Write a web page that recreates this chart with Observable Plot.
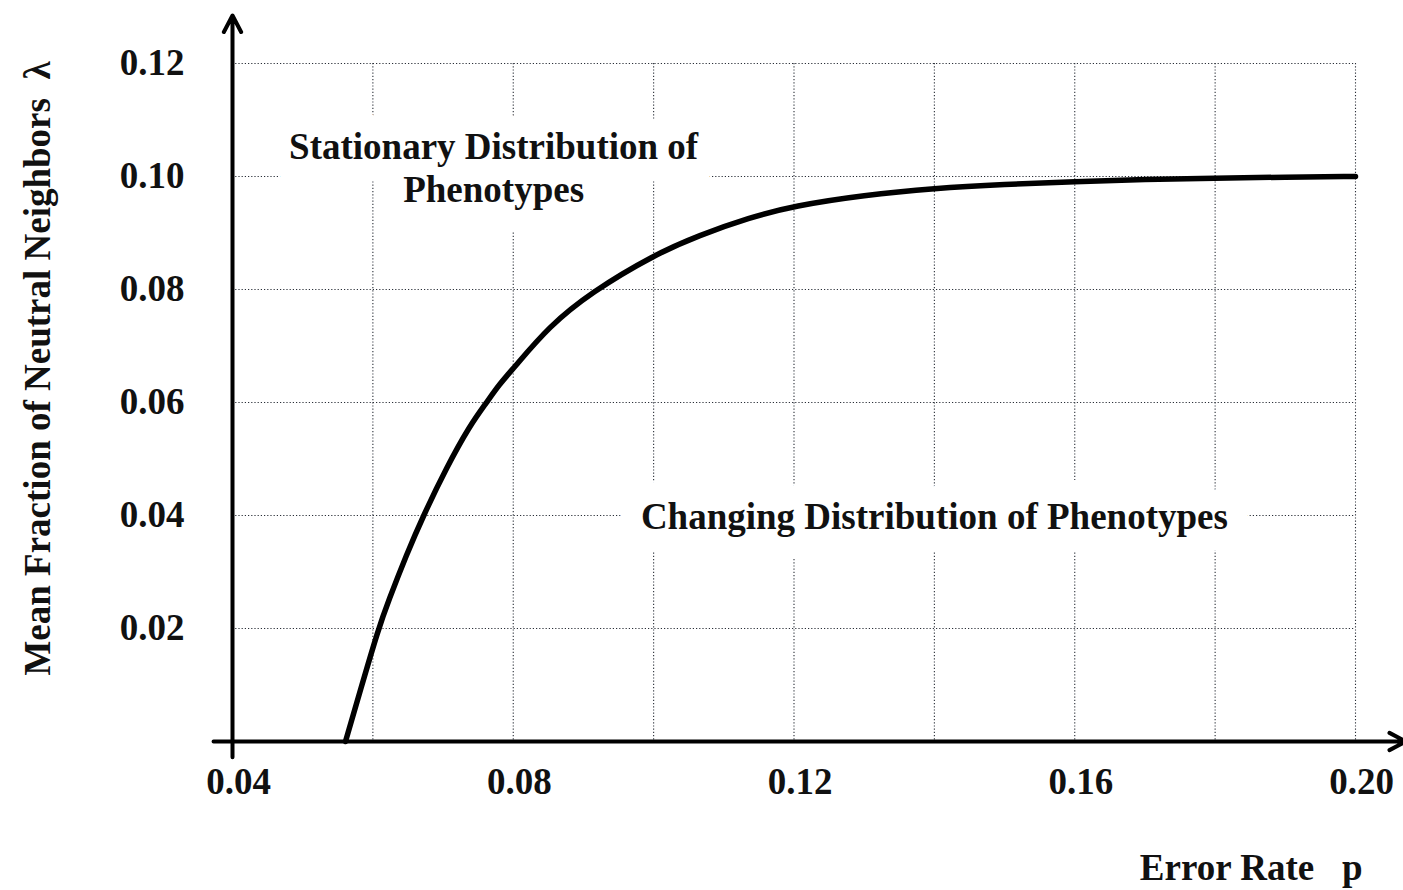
<!DOCTYPE html>
<html>
<head>
<meta charset="utf-8">
<script src="https://cdn.jsdelivr.net/npm/d3@7"></script>
<script src="https://cdn.jsdelivr.net/npm/@observablehq/plot@0.6"></script>
<style>
  html, body { margin: 0; padding: 0; background: #fff; }
  #chart { width: 1403px; height: 890px; overflow: hidden; }
</style>
</head>
<body>
<div id="chart"></div>
<script>
// Error rate p (x) and mean fraction of neutral neighbours λ (y)
const errorRate = [0.0561, 0.0582, 0.0608, 0.0622, 0.0648, 0.0672, 0.0705, 0.0738, 0.0762, 0.0780, 0.0800, 0.0851, 0.0911, 0.1000, 0.1065, 0.1136, 0.1200, 0.1300, 0.1400, 0.1500, 0.1600, 0.1700, 0.1800, 0.1900, 0.2000];
const lambda    = [0.0000, 0.0090, 0.0200, 0.0248, 0.0331, 0.0400, 0.0485, 0.0559, 0.0600, 0.0632, 0.0660, 0.0735, 0.0795, 0.0861, 0.0896, 0.0927, 0.0948, 0.0967, 0.0979, 0.0986, 0.0991, 0.0995, 0.0997, 0.0999, 0.1000];

const xTickLabels = [0.04, 0.08, 0.12, 0.16, 0.20];
const yTickLabels = [0.02, 0.04, 0.06, 0.08, 0.10, 0.12];
const xGrid = [0.06, 0.08, 0.10, 0.12, 0.14, 0.16, 0.18, 0.20];
const yGrid = [0.02, 0.04, 0.06, 0.08, 0.10, 0.12];

const regionLabels = ["Stationary Distribution of\nPhenotypes", "Changing Distribution of Phenotypes"];
const regionP = [0.0772, 0.14];
const regionLambda = [0.1018, 0.04];
const xLabel = "Error Rate\u00a0\u00a0\u00a0p";
const yLabel = "Mean Fraction of Neutral Neighbors\u00a0\u00a0\u03bb";

const curve = errorRate.map((p, i) => ({p, lambda: lambda[i]}));
const regions = regionLabels.map((t, i) => ({text: t, p: regionP[i], lambda: regionLambda[i]}));

const font = "'Liberation Serif', 'Times New Roman', serif";
const fs = 37;
const gridStyle = {stroke: "#2a2f38", strokeOpacity: 1, strokeWidth: 1.1, strokeDasharray: "1.2,2"};
const regionText = {x: "p", y: "lambda", text: "text", fontSize: fs, lineHeight: 1.17};

const plot = Plot.plot({
  width: 1403,
  height: 890,
  marginLeft: 232,
  marginRight: 48,
  marginTop: 63,
  marginBottom: 149,
  style: {fontFamily: font, fontWeight: "bold", color: "#111", background: "#fff"},
  x: {domain: [0.04, 0.20]},
  y: {domain: [0, 0.12]},
  marks: [
    Plot.gridX(xGrid, gridStyle),
    Plot.gridY(yGrid, gridStyle),
    // white knock-out behind the region labels (grid is interrupted there)
    Plot.text(regions, {...regionText, fill: "white", stroke: "white", strokeWidth: 44, strokeLinejoin: "round"}),
    Plot.text(regions, {...regionText, fill: "#111"}),
    Plot.line(curve, {x: "p", y: "lambda", curve: "basis", stroke: "#000", strokeWidth: 5.5}),
    Plot.arrow([{x1: 0.04, y1: -0.0028, x2: 0.04, y2: 0.1285}], {x1: "x1", y1: "y1", x2: "x2", y2: "y2", stroke: "#000", strokeWidth: 4, headLength: 7, headAngle: 55}),
    Plot.arrow([{x1: 0.0373, y1: 0, x2: 0.2072, y2: 0}], {x1: "x1", y1: "y1", x2: "x2", y2: "y2", stroke: "#000", strokeWidth: 4, headLength: 7, headAngle: 55}),
    Plot.axisX(xTickLabels, {tickSize: 0, tickPadding: 26, fontSize: fs, tickFormat: d3.format(".2f"), dx: 6, label: null}),
    Plot.axisY(yTickLabels, {tickSize: 0, tickPadding: 48, fontSize: fs, tickFormat: d3.format(".2f"), label: null}),
    Plot.text([xLabel], {frameAnchor: "bottom-right", text: d => d, textAnchor: "end", lineAnchor: "middle", dx: 7, dy: 127, fontSize: fs, fill: "#111"}),
    Plot.text([yLabel], {frameAnchor: "left", text: d => d, rotate: -90, textAnchor: "middle", lineAnchor: "middle", dx: -194, dy: -34, fontSize: fs, fill: "#111"})
  ]
});
document.getElementById("chart").appendChild(plot);
</script>
</body>
</html>
